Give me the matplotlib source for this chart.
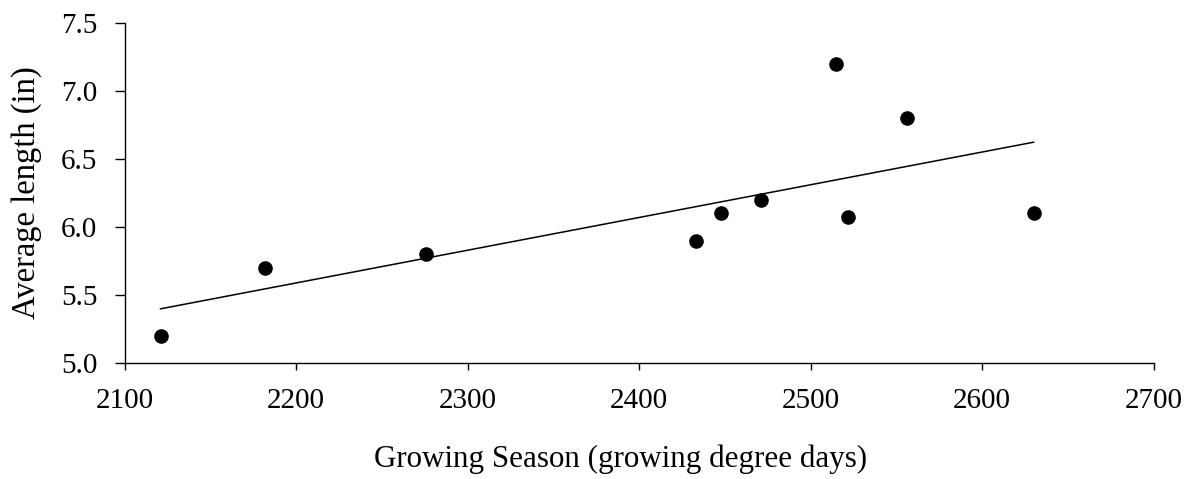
import numpy as np
import matplotlib
matplotlib.use("Agg")
import matplotlib.pyplot as plt

# growing degree days per season and average length
gdd = [2121, 2182, 2276, 2433, 2448, 2471, 2515, 2522, 2556, 2630]
avg_length = [5.2, 5.7, 5.8, 5.9, 6.1, 6.2, 7.2, 6.07, 6.8, 6.1]

x_ticks = [2100, 2200, 2300, 2400, 2500, 2600, 2700]
y_ticks = [5.0, 5.5, 6.0, 6.5, 7.0, 7.5]

plt.rcParams["font.family"] = "Liberation Serif"

W, H = 1189, 479
fig = plt.figure(figsize=(W / 100, H / 100), dpi=100)
ax = fig.add_axes([124.5 / W, 1 - 363 / H, (1153.7 - 124.5) / W, (363 - 23) / H])

ax.scatter(gdd, avg_length, s=90, color="black", zorder=3, clip_on=False)

# linear trend line over the data range
slope, intercept = np.polyfit(gdd, avg_length, 1)
xs = np.array([min(gdd), max(gdd)])
ax.plot(xs, slope * xs + intercept, color="black", linewidth=1.1)

ax.set_xlim(2100, 2700)
ax.set_ylim(5.0, 7.5)
ax.set_xticks(x_ticks)
ax.set_yticks(y_ticks)
ax.set_yticklabels([f"{v:.1f}" for v in y_ticks])

ax.spines["top"].set_visible(False)
ax.spines["right"].set_visible(False)
ax.spines["left"].set_linewidth(1.0)
ax.spines["bottom"].set_linewidth(1.0)
ax.tick_params(axis="x", direction="out", length=5, width=1.0, labelsize=21, pad=13)
ax.tick_params(axis="y", direction="out", length=7.5, width=1.0, labelsize=21, pad=12)

fig.text(621 / W, 1 - 467 / H, "Growing Season (growing degree days)",
         fontsize=22.3, ha="center", va="baseline")
fig.text(27 / W, 1 - 193 / H, "Average length (in)",
         fontsize=23.5, rotation=90, ha="center", va="center")

fig.savefig("out.png", dpi=100)
